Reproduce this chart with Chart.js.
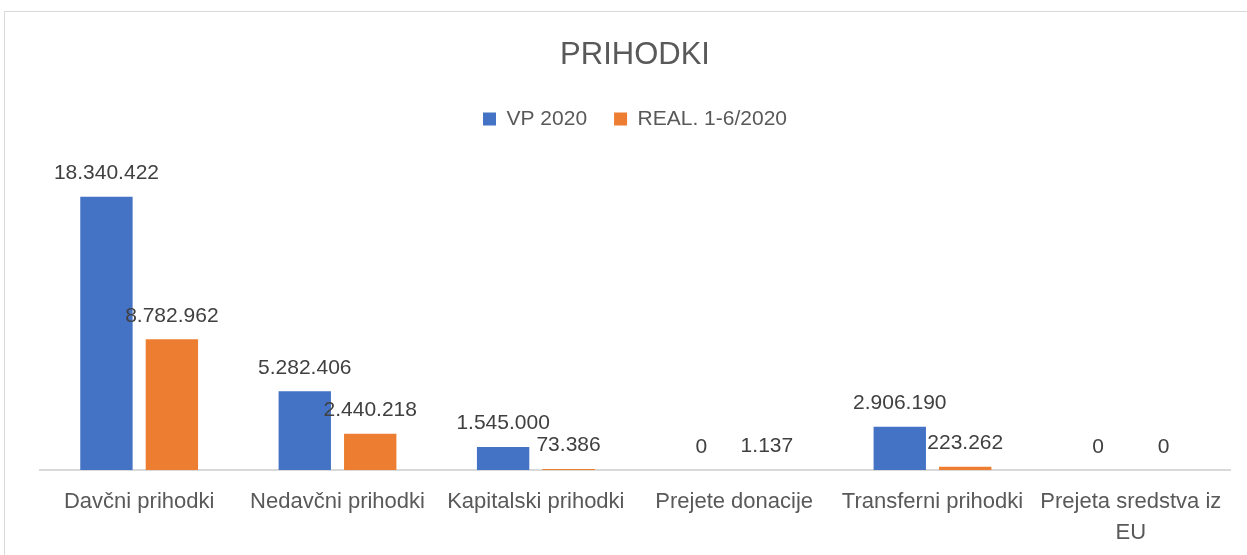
<!DOCTYPE html>
<html><head><meta charset="utf-8">
<script src="https://cdn.jsdelivr.net/npm/chart.js@4"></script>
<style>
html,body{margin:0;padding:0;background:#fff;overflow:hidden;width:1247px;height:555px}
#frame{position:absolute;left:4px;top:11px;width:1262px;height:600px;border:1px solid #D9D9D9;box-sizing:border-box;background:#fff}
#wrap{position:absolute;left:0;top:0;width:1260px;height:543px}
</style></head><body>
<div id="frame"><div id="wrap"><canvas id="c" width="1260" height="543"></canvas></div></div>
<script>
const categories = ["Davčni prihodki", "Nedavčni prihodki", "Kapitalski prihodki", "Prejete donacije", "Transferni prihodki", ["Prejeta sredstva iz", "EU"]];
const seriesNames = ["VP 2020", "REAL. 1-6/2020"];
const vp2020 = [18340422, 5282406, 1545000, 0, 2906190, 0];
const real2020 = [8782962, 2440218, 73386, 1137, 223262, 0];
const yMax = 20000000;

const FONT = '"Liberation Sans", Arial, sans-serif';
const fmt = v => String(v).replace(/\B(?=(\d{3})+(?!\d))/g, '.');

const dataLabels = {
  id: 'dataLabels',
  afterDatasetsDraw(chart) {
    const ctx = chart.ctx;
    ctx.save();
    ctx.font = '21px ' + FONT;
    ctx.fillStyle = '#404040';
    ctx.textAlign = 'center';
    ctx.textBaseline = 'alphabetic';
    chart.data.datasets.forEach((ds, i) => {
      const meta = chart.getDatasetMeta(i);
      meta.data.forEach((el, j) => {
        ctx.fillText(fmt(ds.data[j]), el.x, el.y - 17.5);
      });
    });
    ctx.restore();
  }
};
const legendPad = {
  id: 'legendPad',
  beforeInit(chart) {
    const orig = chart.legend.fit;
    chart.legend.fit = function () { orig.call(this); this.height += 32.5; };
  }
};

new Chart(document.getElementById('c'), {
  type: 'bar',
  data: {
    labels: categories,
    datasets: [
      { label: seriesNames[0], data: vp2020, backgroundColor: '#4472C4', borderWidth: 0 },
      { label: seriesNames[1], data: real2020, backgroundColor: '#ED7D31', borderWidth: 0 }
    ]
  },
  options: {
    responsive: false,
    animation: false,
    devicePixelRatio: 1,
    categoryPercentage: 0.66,
    barPercentage: 0.8,
    layout: { padding: { left: 35, right: 35, top: 0, bottom: 0 } },
    plugins: {
      tooltip: { enabled: false },
      title: {
        display: true, text: 'PRIHODKI', color: '#595959',
        font: { family: FONT, size: 31, weight: 'normal', lineHeight: 1.2 },
        padding: { top: 24.4, bottom: 7.9 }
      },
      legend: {
        position: 'top', align: 'center',
        labels: {
          color: '#595959', boxWidth: 13, boxHeight: 13, padding: 27,
          font: { family: FONT, size: 21 }
        }
      }
    },
    scales: {
      x: {
        grid: { display: false },
        border: { display: true, color: '#D9D9D9', width: 2 },
        ticks: { color: '#595959', font: { family: FONT, size: 22, lineHeight: 1.4 }, padding: 9, maxRotation: 0, autoSkip: false },
        afterFit(s) { s.height = 85; }
      },
      y: { display: false, min: 0, max: yMax }
    }
  },
  plugins: [dataLabels, legendPad]
});
</script>
</body></html>
